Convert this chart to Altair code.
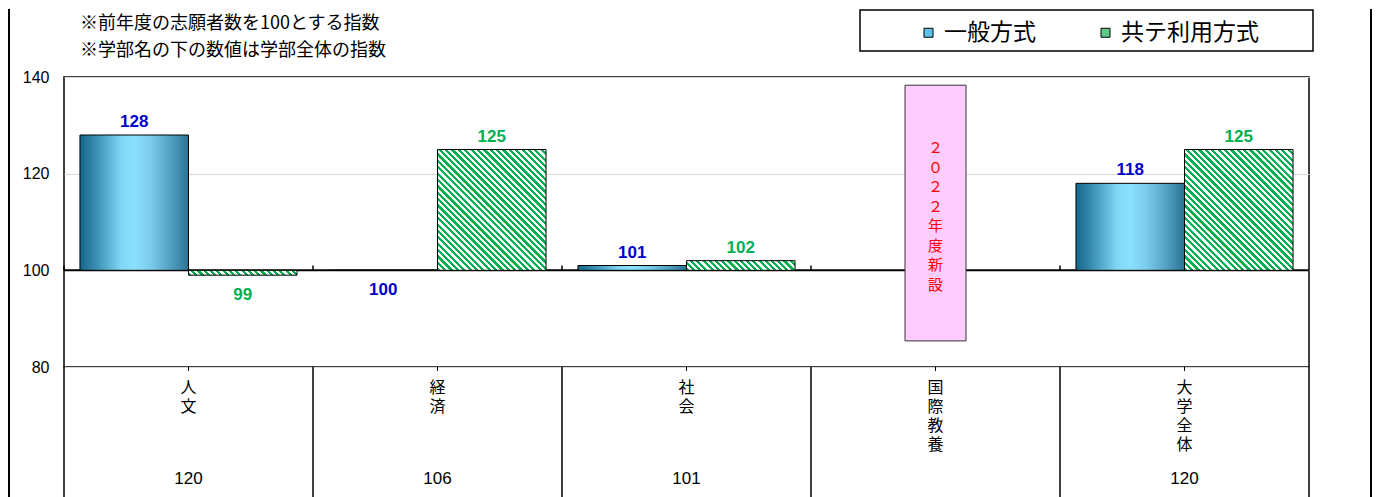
import math
import altair as alt
import pandas as pd

# ---------------- data ----------------
categories = ["人文", "経済", "社会", "国際教養", "大学全体"]
series_names = ["一般方式", "共テ利用方式"]
general_index = [128, 100, 101, None, 118]
kyote_index = [99, 125, 102, None, 125]
faculty_totals = ["120", "106", "101", "", "120"]
note_lines = ["※前年度の志願者数を100とする指数", "※学部名の下の数値は学部全体の指数"]
new_faculty = "国際教養"
new_faculty_note = "２０２２年度新設"
note_box_range = [85.4, 138.3]
y_domain = [80, 140]
y_ticks = [80, 100, 120, 140]
base_value = 100

# ---------------- layout / style ----------------
W, H = 1245, 290
OUTER_PAD = 0.147
px_per_unit = H / (y_domain[1] - y_domain[0])
bar_w = (W / len(categories)) / (2 + 2 * OUTER_PAD)

BLUE_TXT = "#0000CC"
GREEN = "#00B050"
JP = "Noto Sans CJK JP"
NUM = "Liberation Sans"

rows = []
for c, g, k in zip(categories, general_index, kyote_index):
    if g is not None:
        rows.append({"cat": c, "series": series_names[0], "value": g})
    if k is not None:
        rows.append({"cat": c, "series": series_names[1], "value": k})
bars = pd.DataFrame(rows)

table = pd.DataFrame({
    "cat": categories,
    "vname": ["\n".join(c) for c in categories],
    "total": faculty_totals,
})
cats_df = pd.DataFrame({"cat": categories})
one = pd.DataFrame({"a": [0]})

x_scale = alt.Scale(domain=categories, paddingInner=0, paddingOuter=0)
xo_scale = alt.Scale(domain=series_names, paddingInner=0, paddingOuter=OUTER_PAD)
y_scale = alt.Scale(domain=y_domain, nice=False, zero=False)
y_axis = alt.Axis(values=y_ticks, grid=True, gridColor="#d9d9d9", gridWidth=1,
                  domain=False, ticks=False, labelFontSize=16, labelFont=NUM,
                  labelColor="black", labelPadding=15, title=None)

X = alt.X("cat:N", scale=x_scale, axis=None)
XO = alt.XOffset("series:N", scale=xo_scale)
Yv = alt.Y("value:Q", scale=y_scale, axis=y_axis)


def grad_stop(o, c):
    return alt.GradientStop(offset=o, color=c)


blue_grad = alt.LinearGradient(
    gradient="linear", x1=0, y1=0, x2=1, y2=0,
    stops=[grad_stop(0, "#15658a"), grad_stop(0.15, "#3a8fb2"),
           grad_stop(0.38, "#80d6f6"), grad_stop(0.5, "#8ae0ff"),
           grad_stop(0.65, "#7ccbea"), grad_stop(0.85, "#4e9dbd"),
           grad_stop(1, "#2a7394")])


def stripe_gradient(h_px, w_px, period=4.5, frac=0.5):
    h_px = max(h_px, 1.0)
    c = (w_px + h_px) / (w_px ** 2 + h_px ** 2)
    n = max(1, round((w_px + h_px) / (math.sqrt(2) * period)))
    stops = []
    for i in range(n):
        a, b, e = i / n, (i + frac) / n, (i + 1) / n
        stops += [grad_stop(a, GREEN), grad_stop(b, GREEN),
                  grad_stop(b, "white"), grad_stop(e, "white")]
    return alt.LinearGradient(gradient="linear", x1=0, y1=1,
                              x2=c * w_px, y2=1 - c * h_px, stops=stops)


layers = []

# legend carrier: tiny squares hidden under the baseline (drawn first)
layers.append(alt.Chart(bars).mark_square(size=1).encode(
    x=X, xOffset=XO, y=alt.YDatum(base_value, scale=y_scale, axis=y_axis),
    fill=alt.Fill("series:N", scale=alt.Scale(domain=series_names,
                                              range=["#5ec3e8", "#5cc98a"]),
                  legend=alt.Legend(orient="none", legendX=853, legendY=-56,
                                    direction="horizontal", title=None, padding=0,
                                    labelFontSize=23, labelFont=JP, labelColor="black",
                                    symbolType="square", symbolSize=81,
                                    symbolStrokeColor="black", symbolStrokeWidth=1,
                                    symbolOpacity=1, labelOffset=4, columnPadding=58,
                                    labelLimit=0))))

# legend frame
layers.append(alt.Chart(one).mark_rect(fill="white", stroke="black", strokeWidth=1.5).encode(
    x=alt.value(796), x2=alt.value(1249), y=alt.value(-67), y2=alt.value(-26)))

# baseline at 100
layers.append(alt.Chart(one).mark_rule(color="black", strokeWidth=2).encode(
    y=alt.YDatum(base_value, scale=y_scale, axis=y_axis)))

# category-boundary ticks on baseline
layers.append(alt.Chart(cats_df).mark_rule(color="black", strokeWidth=1.5).encode(
    x=alt.X("cat:N", scale=x_scale, axis=None, bandPosition=0),
    y=alt.YDatum(base_value, scale=y_scale, axis=y_axis),
    y2=alt.Y2Datum(base_value + 1)))

# general bars
layers.append(alt.Chart(bars).transform_filter(
    alt.datum.series == series_names[0]).mark_bar(
    fill=blue_grad, stroke="black", strokeWidth=1).encode(
    x=X, xOffset=XO, y=Yv, y2=alt.Y2Datum(base_value)))

# kyote bars, one per category so stripes keep 45 degrees
for c, k in zip(categories, kyote_index):
    if k is None:
        continue
    g = stripe_gradient(abs(k - base_value) * px_per_unit, bar_w)
    layers.append(alt.Chart(bars).transform_filter(
        (alt.datum.series == series_names[1]) & (alt.datum.cat == c)).mark_bar(
        fill=g, stroke="black", strokeWidth=1).encode(
        x=X, xOffset=XO, y=Yv, y2=alt.Y2Datum(base_value)))

# new-faculty note box
box_df = pd.DataFrame({"cat": [new_faculty], "lo": [note_box_range[0]],
                       "hi": [note_box_range[1]],
                       "label": ["\n".join(new_faculty_note)]})
layers.append(alt.Chart(box_df).mark_bar(width=61, fill="#FFCCFF", stroke="#333333",
                                         strokeWidth=1).encode(
    x=X, y=alt.Y("hi:Q", scale=y_scale, axis=y_axis), y2="lo:Q"))
layers.append(alt.Chart(box_df).mark_text(lineBreak="\n", lineHeight=19.5, fontSize=15,
                                          font=JP, color="#FF0000", baseline="top",
                                          dy=56).encode(
    x=X, y=alt.Y("hi:Q", scale=y_scale, axis=y_axis), text="label:N"))

# value labels
lab_color = alt.Color("series:N", scale=alt.Scale(domain=series_names,
                                                   range=[BLUE_TXT, GREEN]), legend=None)
layers.append(alt.Chart(bars).transform_filter(alt.datum.value > base_value).mark_text(
    baseline="alphabetic", dy=-8, fontSize=17, fontWeight="bold", font=NUM).encode(
    x=X, xOffset=XO, y=Yv, text="value:Q", color=lab_color))
layers.append(alt.Chart(bars).transform_filter(alt.datum.value <= base_value).mark_text(
    baseline="alphabetic", dy=25, fontSize=17, fontWeight="bold", font=NUM).encode(
    x=X, xOffset=XO, y=Yv, text="value:Q", color=lab_color))

# table under the plot
TB = H + 135
layers.append(alt.Chart(cats_df).mark_rule(color="black", strokeWidth=1.5).encode(
    x=alt.X("cat:N", scale=x_scale, axis=None, bandPosition=0),
    y=alt.value(H), y2=alt.value(TB)))
layers.append(alt.Chart(cats_df).transform_filter(alt.datum.cat == categories[-1]).mark_rule(
    color="black", strokeWidth=1.5).encode(
    x=alt.X("cat:N", scale=x_scale, axis=None, bandPosition=1),
    y=alt.value(H), y2=alt.value(TB)))
layers.append(alt.Chart(cats_df).mark_rule(color="black", strokeWidth=1).encode(
    x=X, y=alt.value(H), y2=alt.value(H + 4)))
layers.append(alt.Chart(table).mark_text(baseline="top", lineBreak="\n", lineHeight=19,
                                         fontSize=16, font=JP, color="black").encode(
    x=X, y=alt.value(303), text="vname:N"))
layers.append(alt.Chart(table).mark_text(baseline="middle", fontSize=17, font=NUM,
                                         color="black").encode(
    x=X, y=alt.value(402), text="total:N"))

# outer frame (left / right)
for xv in (-55, 1307):
    layers.append(alt.Chart(one).mark_rule(color="black", strokeWidth=2).encode(
        x=alt.value(xv), y=alt.value(-68), y2=alt.value(TB)))

# notes
layers.append(alt.Chart(pd.DataFrame({"t": ["\n".join(note_lines)]})).mark_text(
    align="left", baseline="middle", lineBreak="\n", lineHeight=27, fontSize=18,
    font=JP, color="black").encode(x=alt.value(16), y=alt.value(-53.5), text="t:N"))

chart = alt.layer(*layers).properties(width=W, height=H, padding=0).configure_view(
    stroke="black", strokeWidth=1.5)

chart.save("out.html", embed_options={"renderer": "svg", "actions": False})
